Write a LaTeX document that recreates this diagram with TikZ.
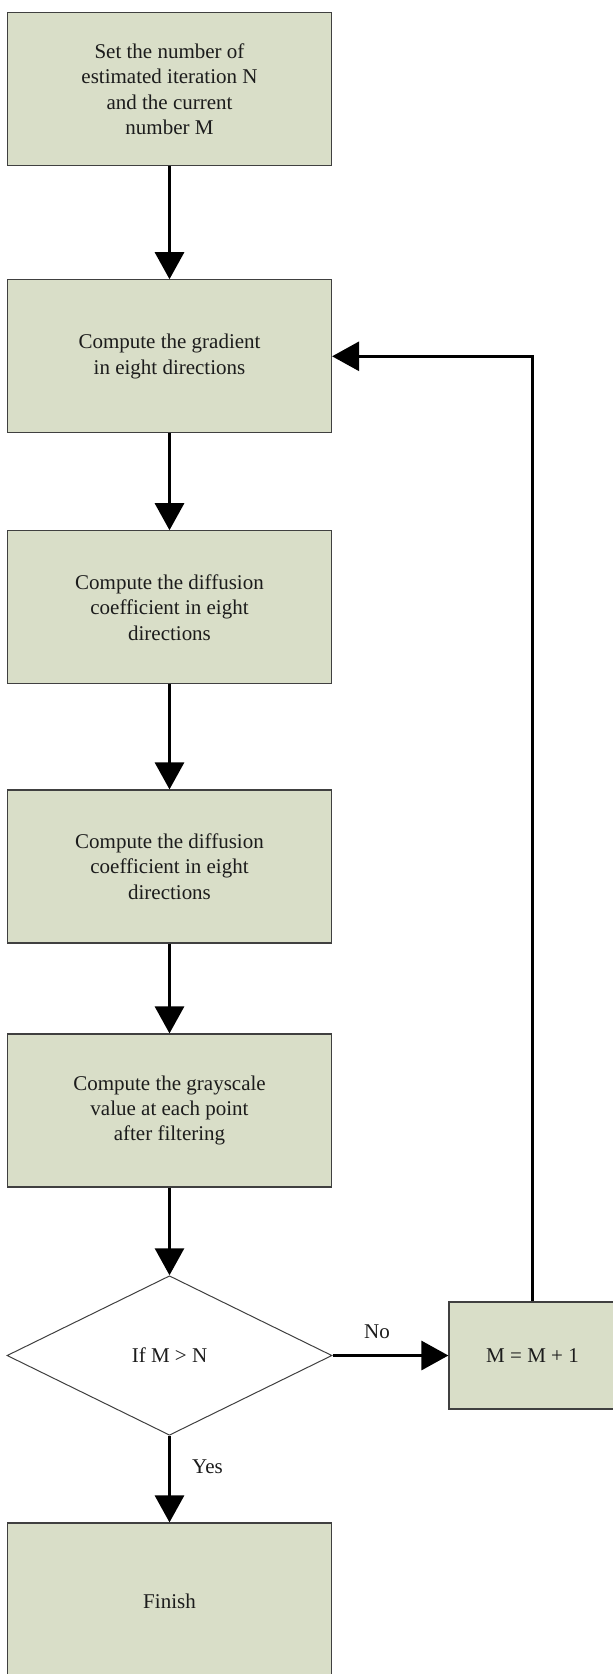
\documentclass[tikz,border=0pt]{standalone}
\usepackage{fontspec}
\setmainfont{Liberation Serif}
\usetikzlibrary{arrows.meta,shapes.geometric}
\definecolor{boxfill}{RGB}{217,222,200}
\definecolor{boxline}{RGB}{64,64,64}
\definecolor{txt}{RGB}{28,28,28}
\begin{document}
\begin{tikzpicture}[x=1pt,y=-1pt,
  procbox/.style={draw=boxline, line width=1.2pt, fill=boxfill, minimum width=324pt,
    minimum height=153pt, inner sep=0pt, align=center, text=txt,
    font=\fontsize{21}{25.4}\selectfont},
  decision/.style={diamond, draw=boxline, line width=1pt, fill=white,
    minimum width=325pt, minimum height=159.5pt, inner sep=0pt, text=txt,
    font=\fontsize{21}{25.4}\selectfont},
  flow/.style={line width=3pt, -{Triangle[length=27pt,width=29pt]}},
  lbl/.style={text=txt, inner sep=0pt, font=\fontsize{21}{25.4}\selectfont}]
\clip (0,0) rectangle (613,1674);
\fill[white] (0,0) rectangle (613,1674);

\node[procbox] (b1) at (169.5,89.2) {Set the number of\\estimated iteration N\\and the current\\number M};
\node[procbox] (b2) at (169.5,356.3) {Compute the gradient\\in eight directions};
\node[procbox] (b3) at (169.5,607.3) {Compute the diffusion\\coefficient in eight\\directions};
\node[procbox] (b4) at (169.5,866.5) {Compute the diffusion\\coefficient in eight\\directions};
\node[procbox] (b5) at (169.5,1110.5) {Compute the grayscale\\value at each point\\after filtering};
\node[decision] (dec) at (169.5,1355.5) {If M > N};
\node[procbox, minimum height=156pt] (fin) at (169.5,1601) {Finish};
\node[procbox, minimum width=167pt, minimum height=107pt] (mbox) at (532.5,1355.5) {M = M + 1};

\draw[flow] (b1.south) -- (b2.north);
\draw[flow] (b2.south) -- (b3.north);
\draw[flow] (b3.south) -- (b4.north);
\draw[flow] (b4.south) -- (b5.north);
\draw[flow] (b5.south) -- (dec.north);
\draw[flow] (dec.south) -- (fin.north);
\draw[flow] (dec.east) -- (mbox.west);
\draw[flow] (mbox.north) |- (b2.east);

\node[lbl] (yes) at (207.5,1467) {Yes};
\node[lbl] (no) at (377,1332) {No};
\end{tikzpicture}
\end{document}
